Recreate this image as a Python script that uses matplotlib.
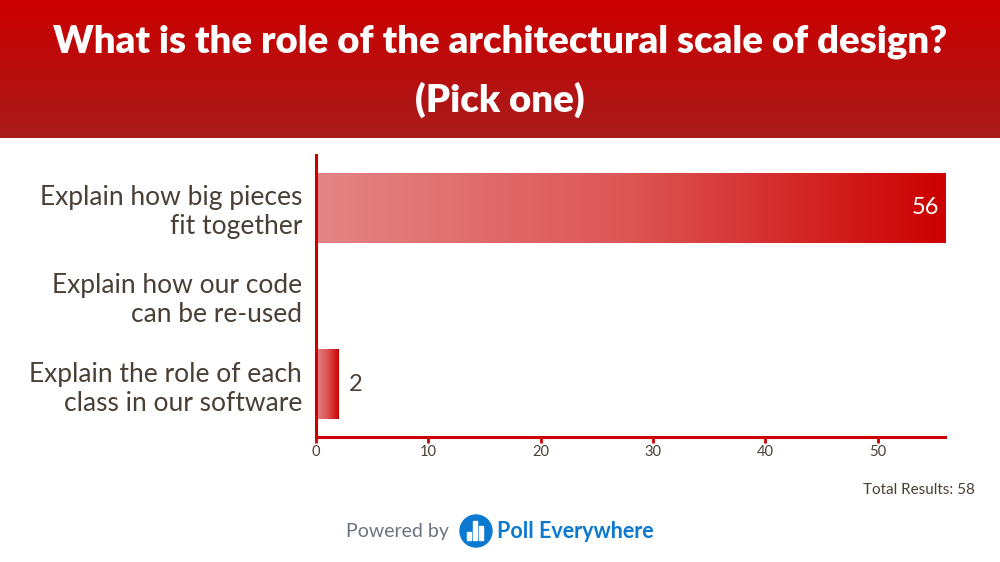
import matplotlib
matplotlib.use("Agg")
import matplotlib.pyplot as plt
import numpy as np
from matplotlib.colors import LinearSegmentedColormap
from matplotlib.patches import Rectangle, Circle

categories = ["Explain how big pieces\nfit together",
              "Explain how our code\ncan be re-used",
              "Explain the role of each\nclass in our software"]
values = [56, 0, 2]
xticks = [0, 10, 20, 30, 40, 50]
title_lines = ["What is the role of the architectural scale of design?", "(Pick one)"]
total_text = "Total Results: 58"

FONT = "Lato"
RED = "#cc0000"
TXT = "#4a3f35"

fig = plt.figure(figsize=(10, 5.62), dpi=100)
W, H = 1000, 562

# header gradient band
hdr = fig.add_axes([0, 1 - 138 / H, 1, 138 / H])
hdr.set_axis_off()
grad = np.linspace(0, 1, 256).reshape(-1, 1)
hcmap = LinearSegmentedColormap.from_list("h", ["#cc0000", "#a81c1c"])
hdr.imshow(grad, aspect="auto", cmap=hcmap, extent=[0, 1, 1, 0])
hdr.set_xlim(0, 1)
hdr.set_ylim(1, 0)
fig.text(0.5, 1 - 42 / H, title_lines[0],
         ha="center", va="center", color="white", fontsize=27.5, fontweight="heavy", family=FONT)
fig.text(0.5, 1 - 100 / H, title_lines[1],
         ha="center", va="center", color="white", fontsize=27.5, fontweight="heavy", family=FONT)

# main axes
x0, x1 = 316, 945
y_top, y_bot = 155, 437
ax = fig.add_axes([x0 / W, 1 - y_bot / H, (x1 - x0) / W, (y_bot - y_top) / H])
for s in ["top", "right"]:
    ax.spines[s].set_visible(False)
for s in ["left", "bottom"]:
    ax.spines[s].set_color(RED)
    ax.spines[s].set_linewidth(2.2)
ax.set_xticks(xticks)
ax.set_xticklabels([str(t) for t in xticks], fontsize=10.5, color=TXT, family=FONT)
ax.tick_params(axis="x", colors=RED, length=4, width=2, labelcolor=TXT, pad=2)
ax.set_yticks(range(len(categories)))
ax.set_yticklabels(categories, fontsize=19, color=TXT, family=FONT, linespacing=1.2)
ax.tick_params(axis="y", length=0, pad=10)

bcmap = LinearSegmentedColormap.from_list("b", ["#e48585", "#dd5555", "#cc0000"])
bh = 0.8
for i, v in enumerate(values):
    if v <= 0:
        continue
    rect = Rectangle((0, i - bh / 2), v, bh, facecolor="none", edgecolor="none")
    ax.add_patch(rect)
    im = ax.imshow(np.linspace(0, 1, 256).reshape(1, -1), cmap=bcmap, aspect="auto",
                   extent=[0, v, i + bh / 2, i - bh / 2], zorder=2)
    im.set_clip_path(rect)
    if v > 10:
        ax.text(v - 0.5, i, str(v), ha="right", va="center", color="white",
                fontsize=17, family=FONT, zorder=3)
    else:
        ax.text(v + 0.9, i, str(v), ha="left", va="center", color=TXT,
                fontsize=17, family=FONT, zorder=3)
ax.set_xlim(0, 56)
ax.set_ylim(len(categories) - 0.4, -0.6)

fig.text(975 / W, 1 - 490 / H, total_text, ha="right", va="center",
         fontsize=11, color=TXT, family=FONT)

# footer
fig.text(449 / W, 1 - 532 / H, "Powered by", ha="right", va="center",
         fontsize=14, color="#6b7280", family=FONT)
lg = fig.add_axes([0, 0, 1, 1], zorder=5)
lg.set_axis_off()
lg.set_xlim(0, W)
lg.set_ylim(H, 0)
lg.set_aspect("equal")
lg.add_patch(Circle((476, 531), 16, color="#0b79d0"))
lg.add_patch(Rectangle((467, 532), 3.5, 8, color="white"))
lg.add_patch(Rectangle((473, 521), 3.5, 19, color="white"))
lg.add_patch(Rectangle((479, 526), 3.5, 14, color="white"))
fig.text(497 / W, 1 - 531 / H, "Poll Everywhere", ha="left", va="center",
         fontsize=15.5, fontweight="bold", color="#0b79d0", family=FONT)

fig.savefig("out.png", dpi=100)
